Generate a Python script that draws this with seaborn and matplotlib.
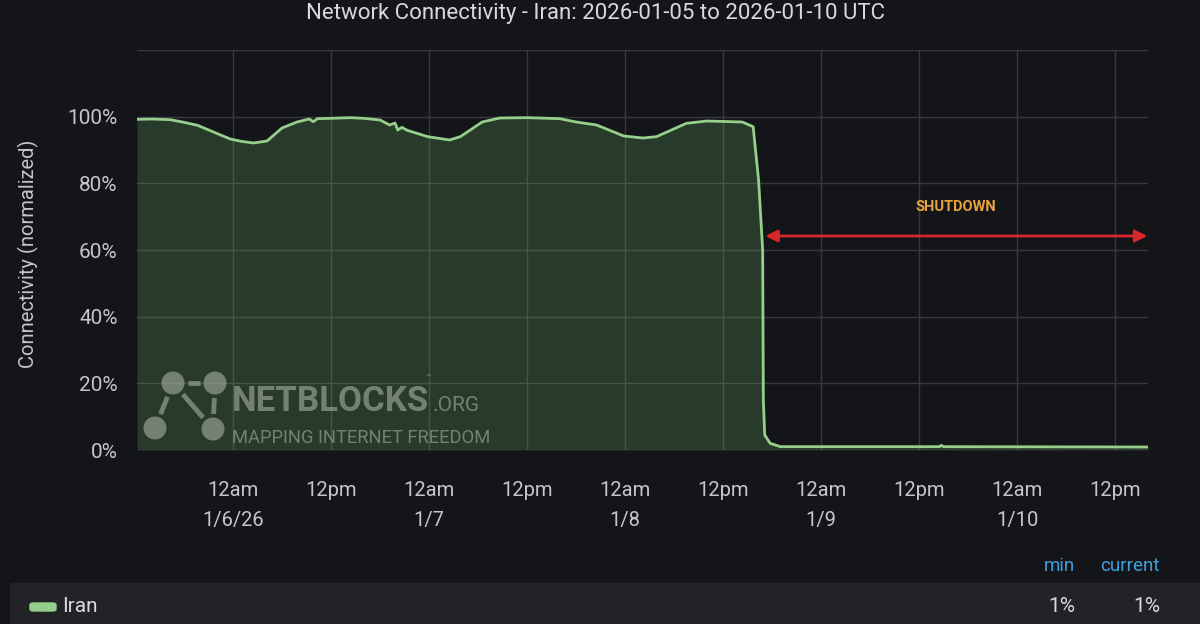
import numpy as np
import pandas as pd
import matplotlib.pyplot as plt
from matplotlib.patches import Circle, Rectangle, FancyBboxPatch
import seaborn as sns

# =====================================================
# DATA
# =====================================================

times = [
    "2026-01-05 12:15", "2026-01-05 14:00", "2026-01-05 16:20", "2026-01-05 18:00",
    "2026-01-05 19:40", "2026-01-05 22:00", "2026-01-05 23:40", "2026-01-06 01:00",
    "2026-01-06 02:30", "2026-01-06 04:10", "2026-01-06 06:00", "2026-01-06 07:50",
    "2026-01-06 09:20", "2026-01-06 09:50", "2026-01-06 10:20", "2026-01-06 12:00",
    "2026-01-06 14:20", "2026-01-06 16:00", "2026-01-06 18:00", "2026-01-06 19:10",
    "2026-01-06 19:50", "2026-01-06 20:10", "2026-01-06 20:40", "2026-01-06 21:20",
    "2026-01-06 23:50", "2026-01-07 02:30", "2026-01-07 03:50", "2026-01-07 06:30",
    "2026-01-07 08:40", "2026-01-07 12:00", "2026-01-07 16:00", "2026-01-07 18:00",
    "2026-01-07 20:30", "2026-01-07 23:50", "2026-01-08 02:10", "2026-01-08 03:50",
    "2026-01-08 07:30", "2026-01-08 10:00", "2026-01-08 14:20", "2026-01-08 15:40",
    "2026-01-08 16:20", "2026-01-08 16:50", "2026-01-08 16:55", "2026-01-08 17:05",
    "2026-01-08 17:45", "2026-01-08 19:00", "2026-01-09 14:30", "2026-01-09 14:40",
    "2026-01-09 15:00", "2026-01-10 16:00",
]

connectivity = [
    99.2, 99.3, 99.1, 98.3,
    97.4, 95.0, 93.3, 92.6,
    92.1, 92.7, 96.6, 98.4,
    99.3, 98.5, 99.4, 99.5,
    99.7, 99.5, 99.0, 97.5,
    98.1, 96.0, 96.8, 95.9,
    94.0, 93.0, 94.0, 98.4,
    99.6, 99.7, 99.4, 98.4,
    97.5, 94.2, 93.6, 94.0,
    98.0, 98.7, 98.4, 97.0,
    81.0, 60.0, 15.0, 4.5,
    2.0, 1.0, 1.0, 1.4,
    1.0, 0.9,
]

tick_times = [
    "2026-01-06 00:00", "2026-01-06 12:00", "2026-01-07 00:00", "2026-01-07 12:00",
    "2026-01-08 00:00", "2026-01-08 12:00", "2026-01-09 00:00", "2026-01-09 12:00",
    "2026-01-10 00:00", "2026-01-10 12:00",
]

tick_labels = [
    "12am\n1/6/26", "12pm", "12am\n1/7", "12pm", "12am\n1/8",
    "12pm", "12am\n1/9", "12pm", "12am\n1/10", "12pm",
]

y_ticks = [0, 20, 40, 60, 80, 100, 120]

x_start = "2026-01-05 12:15"
x_end = "2026-01-10 16:00"

shutdown_start = "2026-01-08 17:10"
shutdown_end = "2026-01-10 15:55"
shutdown_level = 64.2
shutdown_label_time = "2026-01-09 16:30"
shutdown_label_level = 72.9

legend_min = "1%"
legend_current = "1%"

# =====================================================
# STYLE
# =====================================================

BG = "#141519"
GRID = "#37393d"
LINE = "#96cf8b"
FILL = "#73BF69"
TEXT = "#d8d9da"
TICK = "#c5c6c8"

sns.set_theme(
    style="dark",
    rc={
        "axes.facecolor": BG,
        "figure.facecolor": BG,
        "axes.edgecolor": BG,
        "grid.color": GRID,
        "text.color": TEXT,
        "xtick.color": TICK,
        "ytick.color": TICK,
        "axes.labelcolor": TICK,
    },
)

plt.rcParams["font.family"] = ["Roboto", "DejaVu Sans"]

# =====================================================
# FIGURE
# =====================================================

fig = plt.figure(figsize=(12, 6.24), dpi=100)

ax = fig.add_axes([137 / 1200, 1 - 450 / 624, (1148 - 137) / 1200, 400 / 624])

df = pd.DataFrame({
    "time": pd.to_datetime(times),
    "connectivity": connectivity,
})

ax.fill_between(
    df["time"],
    df["connectivity"],
    0,
    color=FILL,
    alpha=0.22,
    linewidth=0,
    zorder=2,
)

sns.lineplot(
    data=df,
    x="time",
    y="connectivity",
    ax=ax,
    color=LINE,
    linewidth=2,
    zorder=3,
)

ax.set_xlim(pd.Timestamp(x_start), pd.Timestamp(x_end))
ax.set_ylim(0, 120)

ax.set_yticks(y_ticks)
ax.set_yticklabels([f"{v}%" if v < 120 else "" for v in y_ticks], fontsize=15)

ax.set_xticks(pd.to_datetime(tick_times))
ax.set_xticklabels(
    tick_labels,
    fontsize=14.5,
    linespacing=1.75,
    va="top",
)

ax.grid(True, color=GRID, linewidth=1)
ax.set_axisbelow(True)
ax.tick_params(axis="y", length=0, pad=14)
ax.tick_params(axis="x", length=0, pad=22)

for spine in ax.spines.values():
    spine.set_visible(False)

ax.set_xlabel("")
ax.set_ylabel("Connectivity (normalized)", fontsize=14.5)
ax.yaxis.set_label_coords(-0.097, 0.49)

# =====================================================
# TITLE
# =====================================================

fig.text(
    596 / 1200, 1 - 14 / 624,
    "Network Connectivity - Iran: 2026-01-05 to 2026-01-10 UTC",
    ha="center", va="center", fontsize=16, color=TEXT,
)

# =====================================================
# SHUTDOWN ANNOTATION
# =====================================================

ax.annotate(
    "",
    xy=(pd.Timestamp(shutdown_end), shutdown_level),
    xytext=(pd.Timestamp(shutdown_start), shutdown_level),
    arrowprops=dict(
        arrowstyle="<|-|>,head_length=0.6,head_width=0.3",
        color="#d9262b",
        linewidth=2,
        shrinkA=0,
        shrinkB=0,
    ),
    zorder=4,
)

ax.text(
    pd.Timestamp(shutdown_label_time),
    shutdown_label_level,
    "SHUTDOWN",
    ha="center", va="center",
    fontsize=10.5, fontweight="bold", color="#e9a33c",
    zorder=4,
)

# =====================================================
# NETBLOCKS WATERMARK
# =====================================================

wm = fig.add_axes([140 / 1200, 1 - 450 / 624, 360 / 1200, 85 / 624])
wm.set_xlim(0, 360)
wm.set_ylim(85, 0)
wm.axis("off")
wm.patch.set_alpha(0)

WM = "#a9b0a6"
WM_ALPHA = 0.6

nodes = np.array([[33, 18], [75, 18], [15, 63], [73, 64]])
links = [(0, 1), (0, 2), (0, 3), (1, 3)]

for a, b in links:
    p, q = nodes[a], nodes[b]
    d = (q - p) / np.linalg.norm(q - p)
    s, e = p + d * 15, q - d * 15
    wm.plot([s[0], e[0]], [s[1], e[1]], color=WM, alpha=WM_ALPHA,
            linewidth=3.5, solid_capstyle="butt")

for cx, cy in nodes:
    wm.add_patch(Circle((cx, cy), 11.5, color=WM, alpha=WM_ALPHA, linewidth=0))

wm.text(92, 46, "NETBLOCKS", fontweight="bold",
        fontsize=25, color=WM, alpha=WM_ALPHA, va="baseline")
wm.text(293, 46, ".ORG", fontsize=15,
        color=WM, alpha=WM_ALPHA, va="baseline")
wm.text(286, 15, "™", fontsize=6, color=WM, alpha=WM_ALPHA, va="baseline")
wm.text(92, 78, "MAPPING INTERNET FREEDOM",
        fontsize=13.2, color=WM, alpha=WM_ALPHA, va="baseline")

# =====================================================
# LEGEND TABLE
# =====================================================

fig.patches.append(
    Rectangle((10 / 1200, 0), 1190 / 1200, 41 / 624,
              transform=fig.transFigure, color="#222327", zorder=0)
)

fig.patches.append(
    FancyBboxPatch((30 / 1200, 1 - 611 / 624), 26 / 1200, 8 / 624,
                   boxstyle="round,pad=0,rounding_size=0.003",
                   transform=fig.transFigure, color=LINE, zorder=1)
)

fig.text(62 / 1200, 1 - 607 / 624, "Iran", ha="left", va="center",
         fontsize=15, color=TEXT)

fig.text(1075 / 1200, 1 - 566 / 624, "min", ha="right", va="center",
         fontsize=13.5, color="#3d9fdc")
fig.text(1160 / 1200, 1 - 566 / 624, "current", ha="right", va="center",
         fontsize=13.5, color="#3d9fdc")

fig.text(1075 / 1200, 1 - 607 / 624, legend_min, ha="right", va="center",
         fontsize=15, color=TEXT)
fig.text(1160 / 1200, 1 - 607 / 624, legend_current, ha="right", va="center",
         fontsize=15, color=TEXT)

plt.savefig("out.png", dpi=100, facecolor=BG)

plt.close()
